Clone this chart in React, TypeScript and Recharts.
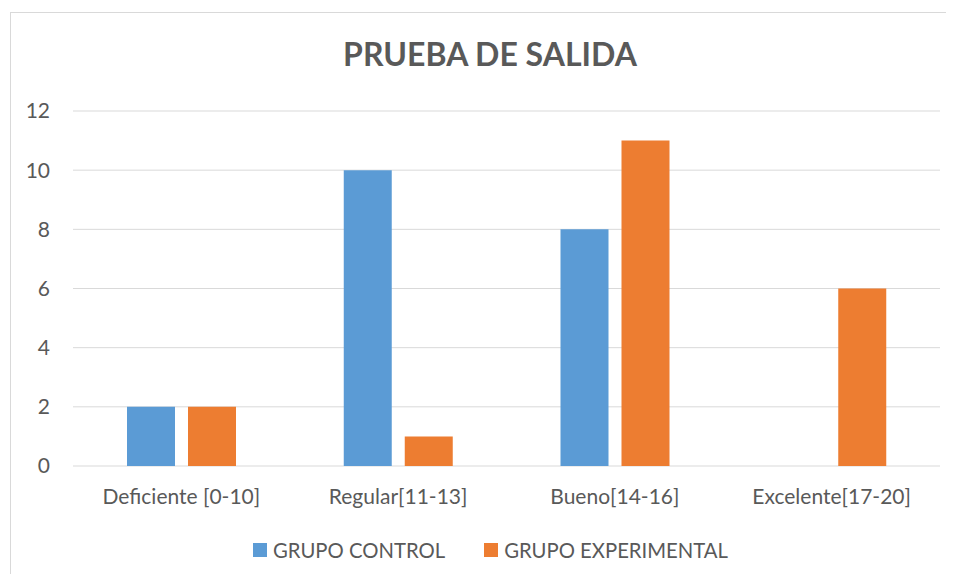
import React from 'react'
import { BarChart, Bar, XAxis, YAxis, CartesianGrid } from 'recharts'

const categories = ['Deficiente [0-10]', 'Regular[11-13]', 'Bueno[14-16]', 'Excelente[17-20]']
const grupoControl = [2, 10, 8, 0]
const grupoExperimental = [2, 1, 11, 6]
const yTicks = [0, 2, 4, 6, 8, 10, 12]
const series = [
  { key: 'control', name: 'GRUPO CONTROL', color: '#5b9bd5' },
  { key: 'experimental', name: 'GRUPO EXPERIMENTAL', color: '#ed7d31' },
]

const data = categories.map((c, i) => ({
  name: c,
  control: grupoControl[i],
  experimental: grupoExperimental[i],
}))

const FONT = 'Lato, "Open Sans", sans-serif'
const TEXT = '#595959'

export default function App() {
  return (
    <div style={{ position: 'relative', margin: -8, width: 954, height: 582, overflow: 'hidden', background: '#fff' }}>
      {/* chart frame: only the left and top edges are visible in the picture */}
      <div
        style={{
          position: 'absolute',
          left: 10,
          top: 12,
          right: 0,
          bottom: 0,
          borderLeft: '1px solid #d9d9d9',
          borderTop: '1px solid #d9d9d9',
        }}
      />
      <div
        style={{
          position: 'absolute',
          top: 35,
          left: 0,
          width: 980,
          textAlign: 'center',
          fontFamily: FONT,
          fontWeight: 700,
          fontSize: 32,
          lineHeight: '38px',
          color: TEXT,
        }}
      >
        PRUEBA DE SALIDA
      </div>
      <div style={{ position: 'absolute', left: 0, top: 0 }}>
        <BarChart
          width={954}
          height={582}
          data={data}
          margin={{ top: 111, right: 14, left: 0, bottom: 0 }}
          barSize={48}
          barGap={13}
        >
          <CartesianGrid vertical={false} stroke="#d9d9d9" strokeWidth={1} />
          <XAxis
            dataKey="name"
            axisLine={false}
            tickLine={false}
            tickSize={0}
            tickMargin={23}
            height={116}
            tick={{ fontFamily: FONT, fontSize: 21, fill: TEXT }}
          />
          <YAxis
            domain={[0, 12]}
            ticks={yTicks}
            axisLine={false}
            tickLine={false}
            tickSize={0}
            tickMargin={23}
            width={73}
            tick={{ fontFamily: FONT, fontSize: 21, fill: TEXT }}
          />
          {series.map((s) => (
            <Bar key={s.key} dataKey={s.key} name={s.name} fill={s.color} isAnimationActive={false} />
          ))}
        </BarChart>
      </div>
      <div
        style={{
          position: 'absolute',
          top: 540,
          left: 253,
          display: 'flex',
          gap: 39,
          fontFamily: FONT,
          fontSize: 20.3,
          lineHeight: '20px',
          color: TEXT,
        }}
      >
        {series.map((s) => (
          <div key={s.key} style={{ display: 'flex', alignItems: 'center', gap: 6 }}>
            <span style={{ width: 14, height: 14, background: s.color, display: 'inline-block' }} />
            <span>{s.name}</span>
          </div>
        ))}
      </div>
    </div>
  )
}
